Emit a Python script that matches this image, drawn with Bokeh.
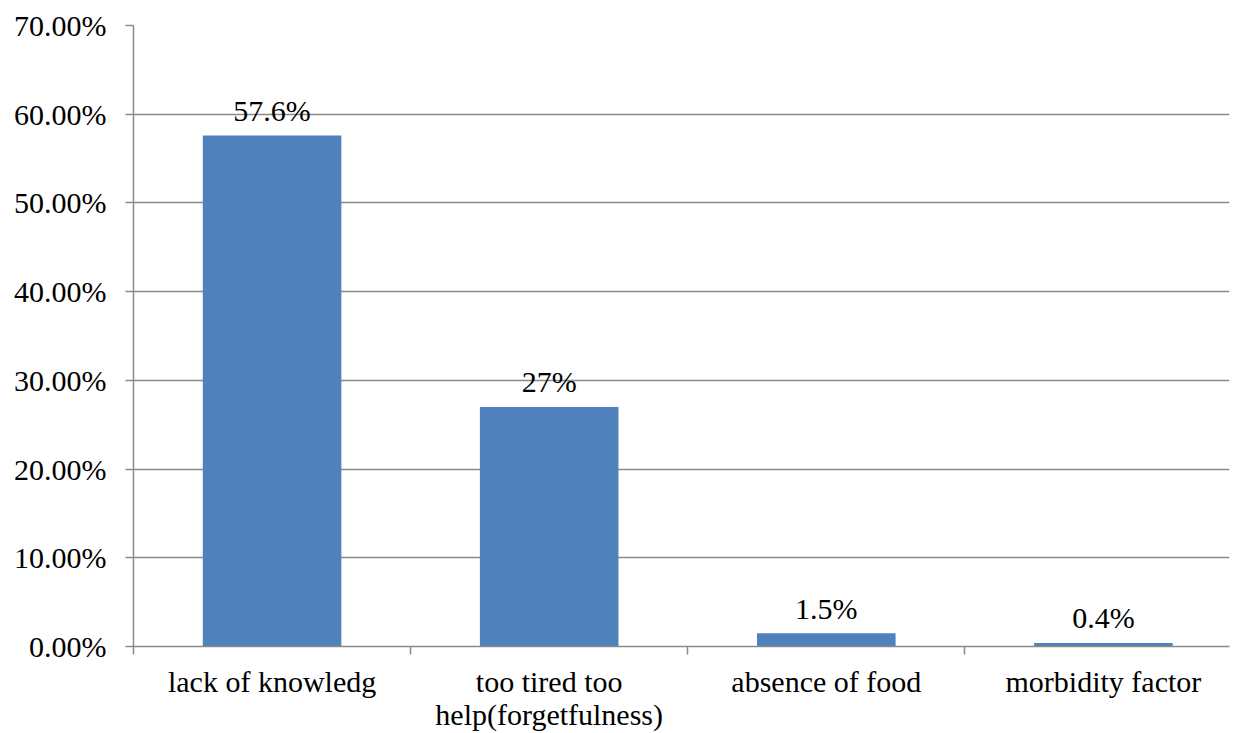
from bokeh.plotting import figure
from bokeh.models import (ColumnDataSource, Range1d, LinearAxis, FixedTicker,
                          NumeralTickFormatter)
from bokeh.core.properties import value
from bokeh.embed import file_html
from bokeh.resources import INLINE

# Reasons reported, and the share of respondents for each
categories = ["lack of knowledg", "too tired too\nhelp(forgetfulness)",
              "absence of food", "morbidity factor"]
shares = [0.576, 0.27, 0.015, 0.004]
share_labels = ["57.6%", "27%", "1.5%", "0.4%"]
y_ticks = [0.0, 0.1, 0.2, 0.3, 0.4, 0.5, 0.6, 0.7]

FONT = "Liberation Serif"
GRID = "#8a8a8a"
BAR = "#4F81BD"

# each category occupies one unit slot; bars sit at the slot centres
n = len(categories)
centres = [i + 0.5 for i in range(n)]
src = ColumnDataSource(dict(x=centres, share=shares, label=share_labels))

# the plotting area stops a little short of the last slot's right edge
p = figure(width=1237, height=733, x_range=Range1d(0, n - 0.045), y_range=Range1d(0, 0.7),
           output_backend="svg", toolbar_location=None,
           x_axis_location=None, y_axis_location=None,
           min_border_left=133, min_border_right=8, min_border_top=25, min_border_bottom=87)
p.outline_line_color = None
p.background_fill_color = "white"
p.border_fill_color = "white"

# y axis with percentage ticks
yax = LinearAxis(ticker=FixedTicker(ticks=y_ticks),
                 formatter=NumeralTickFormatter(format="0.00%"))
yax.axis_line_color = GRID
yax.axis_line_width = 1.5
yax.major_tick_line_color = GRID
yax.major_tick_line_width = 1.5
yax.major_tick_out = 8
yax.major_tick_in = 0
yax.minor_tick_line_color = None
yax.major_label_standoff = 19
yax.major_label_text_font = FONT
yax.major_label_text_font_size = "30px"
yax.major_label_text_color = "black"
p.add_layout(yax, "left")

# x axis line with tick marks at the category boundaries (no labels)
eax = LinearAxis(ticker=FixedTicker(ticks=list(range(n))))
eax.axis_line_color = GRID
eax.axis_line_width = 1.5
eax.major_tick_line_color = GRID
eax.major_tick_line_width = 1.5
eax.major_tick_out = 8
eax.major_tick_in = 0
eax.minor_tick_line_color = None
eax.major_label_text_color = None
eax.major_label_standoff = 0
p.add_layout(eax, "below")

# category names centred under each slot
cax = LinearAxis(ticker=FixedTicker(ticks=centres))
cax.major_label_overrides = {c: name for c, name in zip(centres, categories)}
cax.axis_line_color = None
cax.major_tick_line_color = None
cax.minor_tick_line_color = None
cax.major_tick_out = 0
cax.major_tick_in = 0
cax.major_label_standoff = 10
cax.major_label_text_font = FONT
cax.major_label_text_font_size = "30px"
cax.major_label_text_line_height = 1.0
cax.major_label_text_color = "black"
p.add_layout(cax, "below")

p.xgrid.visible = False
p.ygrid.grid_line_color = GRID
p.ygrid.grid_line_width = 1.5
p.ygrid.ticker = FixedTicker(ticks=y_ticks)
p.grid.level = "underlay"

p.vbar(x="x", top="share", width=0.5, source=src, fill_color=BAR, line_color=None)

p.text(x="x", y="share", text="label", source=src, text_align="center",
       text_baseline="alphabetic", y_offset=-25, text_font=value(FONT),
       text_font_size="30px", text_color="black")

open("out.html", "w").write(file_html(p, INLINE))
